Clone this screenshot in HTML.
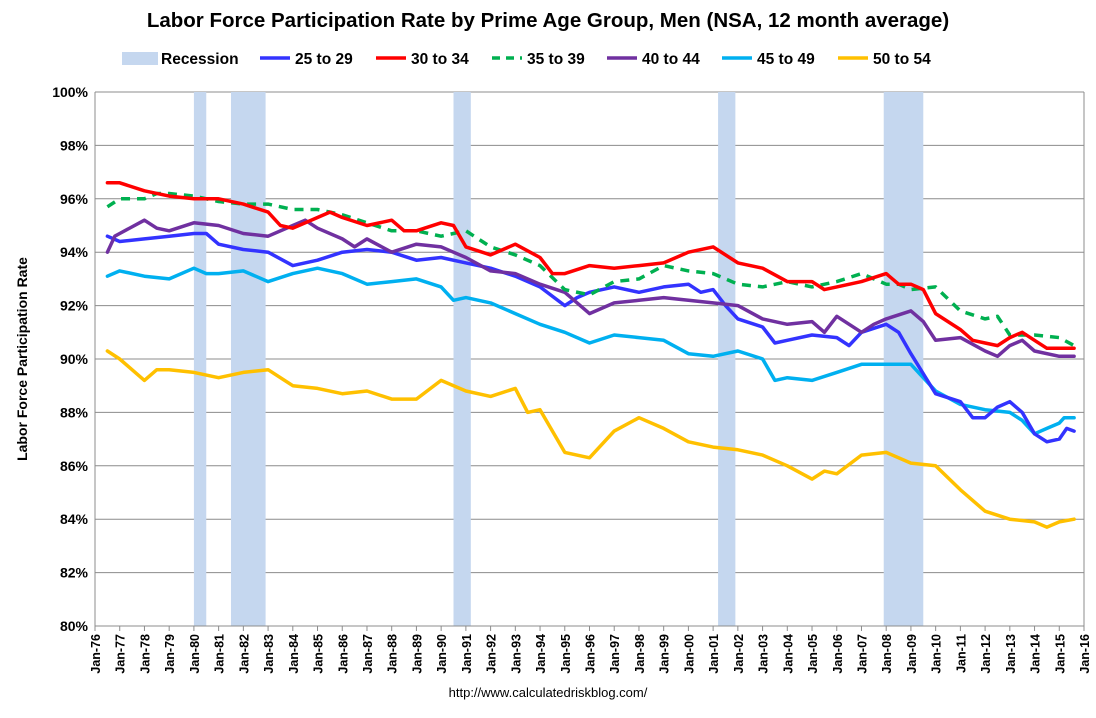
<!DOCTYPE html>
<html><head><meta charset="utf-8"><style>
body{margin:0;background:#fff;font-family:"Liberation Sans",Arial,sans-serif}
svg text{font-family:"Liberation Sans",Arial,sans-serif}
</style></head><body>
<svg id="c" width="1096" height="713" xmlns="http://www.w3.org/2000/svg">
<text x="548" y="27" text-anchor="middle" font-size="20.5" font-weight="bold" fill="#000">Labor Force Participation Rate by Prime Age Group, Men (NSA, 12 month average)</text>
<g id="legend"></g>
<g id="grid"></g>
<g id="rec"></g>
<g id="lines"></g>
<g id="axes"></g>
<text transform="translate(27,359) rotate(-90)" text-anchor="middle" font-size="14" font-weight="bold">Labor Force Participation Rate</text>
<text x="548" y="697" text-anchor="middle" font-size="13">http://www.calculatedriskblog.com/</text>
</svg>
<script>
const yTicks=[80,82,84,86,88,90,92,94,96,98,100];
const recessions=[[1980.0,1980.5],[1981.5,1982.9],[1990.5,1991.2],[2001.2,2001.9],[2007.9,2009.5]];
const s25x=[1976.5,1977,1978,1979,1980,1980.5,1981,1982,1983,1984,1985,1986,1987,1988,1989,1990,1991,1992,1993,1994,1995,1995.5,1996,1997,1998,1999,2000,2000.5,2001,2001.5,2002,2003,2003.5,2004,2005,2006,2006.5,2007,2008,2008.5,2009,2010,2011,2011.5,2012,2012.5,2013,2013.5,2014,2014.5,2015,2015.3,2015.6];
const s25y=[94.6,94.4,94.5,94.6,94.7,94.7,94.3,94.1,94.0,93.5,93.7,94.0,94.1,94.0,93.7,93.8,93.6,93.4,93.1,92.7,92.0,92.3,92.5,92.7,92.5,92.7,92.8,92.5,92.6,92.0,91.5,91.2,90.6,90.7,90.9,90.8,90.5,91.0,91.3,91.0,90.2,88.7,88.4,87.8,87.8,88.2,88.4,88.0,87.2,86.9,87.0,87.4,87.3];
const s30x=[1976.5,1977,1978,1979,1980,1981,1982,1983,1983.5,1984,1985,1985.5,1986,1987,1988,1988.5,1989,1990,1990.5,1991,1992,1993,1994,1994.5,1995,1996,1997,1998,1999,2000,2001,2002,2003,2004,2005,2005.5,2006,2007,2008,2008.5,2009,2009.5,2010,2011,2011.5,2012,2012.5,2013,2013.5,2014,2014.5,2015,2015.6];
const s30y=[96.6,96.6,96.3,96.1,96.0,96.0,95.8,95.5,95.0,94.9,95.3,95.5,95.3,95.0,95.2,94.8,94.8,95.1,95.0,94.2,93.9,94.3,93.8,93.2,93.2,93.5,93.4,93.5,93.6,94.0,94.2,93.6,93.4,92.9,92.9,92.6,92.7,92.9,93.2,92.8,92.8,92.6,91.7,91.1,90.7,90.6,90.5,90.8,91.0,90.7,90.4,90.4,90.4];
const s35x=[1976.5,1977,1978,1978.5,1979,1980,1981,1982,1983,1984,1985,1986,1987,1988,1989,1990,1991,1992,1993,1994,1995,1996,1997,1998,1999,2000,2001,2002,2003,2004,2005,2006,2007,2008,2008.5,2009,2010,2011,2012,2012.5,2013,2014,2015,2015.6];
const s35y=[95.7,96.0,96.0,96.2,96.2,96.1,95.9,95.8,95.8,95.6,95.6,95.4,95.1,94.8,94.8,94.6,94.8,94.2,93.9,93.5,92.6,92.4,92.9,93.0,93.5,93.3,93.2,92.8,92.7,92.9,92.7,92.9,93.2,92.8,92.8,92.6,92.7,91.8,91.5,91.6,90.9,90.9,90.8,90.5];
const s40x=[1976.5,1976.8,1977,1978,1978.5,1979,1980,1981,1982,1983,1984,1984.5,1985,1986,1986.5,1987,1988,1989,1990,1990.5,1991,1992,1993,1994,1995,1996,1997,1998,1999,2000,2001,2002,2003,2004,2005,2005.5,2006,2007,2007.5,2008,2009,2009.5,2010,2011,2012,2012.5,2013,2013.5,2014,2015,2015.6];
const s40y=[94.0,94.6,94.7,95.2,94.9,94.8,95.1,95.0,94.7,94.6,95.0,95.2,94.9,94.5,94.2,94.5,94.0,94.3,94.2,94.0,93.8,93.3,93.2,92.8,92.5,91.7,92.1,92.2,92.3,92.2,92.1,92.0,91.5,91.3,91.4,91.0,91.6,91.0,91.3,91.5,91.8,91.4,90.7,90.8,90.3,90.1,90.5,90.7,90.3,90.1,90.1];
const s45x=[1976.5,1977,1978,1979,1980,1980.5,1981,1982,1983,1984,1985,1986,1987,1988,1989,1990,1990.5,1991,1992,1993,1994,1995,1996,1997,1998,1999,2000,2001,2002,2003,2003.5,2004,2005,2006,2007,2008,2009,2010,2011,2012,2013,2013.5,2014,2014.5,2015,2015.2,2015.6];
const s45y=[93.1,93.3,93.1,93.0,93.4,93.2,93.2,93.3,92.9,93.2,93.4,93.2,92.8,92.9,93.0,92.7,92.2,92.3,92.1,91.7,91.3,91.0,90.6,90.9,90.8,90.7,90.2,90.1,90.3,90.0,89.2,89.3,89.2,89.5,89.8,89.8,89.8,88.8,88.3,88.1,88.0,87.7,87.2,87.4,87.6,87.8,87.8];
const s50x=[1976.5,1977,1978,1978.5,1979,1980,1981,1982,1983,1984,1985,1986,1987,1988,1989,1990,1991,1992,1993,1993.5,1994,1995,1996,1997,1998,1999,2000,2001,2002,2003,2004,2005,2005.5,2006,2007,2008,2009,2010,2011,2012,2013,2014,2014.5,2015,2015.6];
const s50y=[90.3,90.0,89.2,89.6,89.6,89.5,89.3,89.5,89.6,89.0,88.9,88.7,88.8,88.5,88.5,89.2,88.8,88.6,88.9,88.0,88.1,86.5,86.3,87.3,87.8,87.4,86.9,86.7,86.6,86.4,86.0,85.5,85.8,85.7,86.4,86.5,86.1,86.0,85.1,84.3,84.0,83.9,83.7,83.9,84.0];
const seriesNames=["25 to 29","30 to 34","35 to 39","40 to 44","45 to 49","50 to 54"];
const NS="http://www.w3.org/2000/svg";
const X0=95,X1=1084,Y0=626,Y1=92;
const xs=t=>X0+(t-1976)*(X1-X0)/40;
const ys=v=>Y0-(v-80)*(Y0-Y1)/20;
function mk(tag,attrs,parent){const e=document.createElementNS(NS,tag);for(const k in attrs)e.setAttribute(k,attrs[k]);parent.appendChild(e);return e;}
const grid=document.getElementById('grid'),axes=document.getElementById('axes'),rec=document.getElementById('rec'),lines=document.getElementById('lines'),leg=document.getElementById('legend');
yTicks.forEach(v=>{
 const l=mk('line',{x1:X0,x2:X1,y1:ys(v),y2:ys(v),stroke:'#8c8c8c','stroke-width':1},grid);
 
 
 const t=mk('text',{x:X0-7,y:ys(v)+5,'text-anchor':'end','font-size':14,'font-weight':'bold'},axes);
 t.textContent=v+'%';
 
 
});
recessions.forEach(r=>{
 const b=mk('rect',{x:xs(r[0]),y:Y1,width:xs(r[1])-xs(r[0]),height:Y0-Y1,fill:'#c5d7ef'},rec);
 
 
});
mk('line',{x1:X1,x2:X1,y1:Y1,y2:Y0,stroke:'#8c8c8c'},axes);
mk('line',{x1:X0,x2:X0,y1:Y1,y2:Y0,stroke:'#8c8c8c'},axes);
mk('line',{x1:X0,x2:X1,y1:Y0,y2:Y0,stroke:'#8c8c8c'},axes);
for(let y=1976;y<=2016;y++){
 mk('line',{x1:xs(y),x2:xs(y),y1:Y0,y2:Y0+5,stroke:'#8c8c8c'},axes);
 const t=mk('text',{transform:`translate(${xs(y)+5},${Y0+8}) rotate(-90)`,'text-anchor':'end','font-size':12.5,'font-weight':'bold'},axes);
 t.textContent='Jan-'+String(y%100).padStart(2,'0');
 
 
}
const colors=['#3333ff','#ff0000','#00b050','#7030a0','#00b0f0','#ffc000'];
const data=[[s25x,s25y],[s30x,s30y],[s35x,s35y],[s40x,s40y],[s45x,s45y],[s50x,s50y]];
const order=[5,4,0,3,2,1];
order.forEach(i=>{
 const [dx,dy]=data[i];
 const p=dx.map((t,j)=>(j?'L':'M')+xs(t).toFixed(1)+' '+ys(dy[j]).toFixed(1)).join(' ');
 const a={d:p,fill:'none',stroke:colors[i],'stroke-width':3.5,'stroke-linejoin':'round','stroke-linecap':'round'};
 if(i===2){a['stroke-dasharray']='9 7';a['stroke-linecap']='butt';}
 const e=mk('path',a,lines);
 
 
});
const rs=mk('rect',{x:122,y:52,width:36,height:13,fill:'#c5d7ef'},leg);


const rt=mk('text',{x:161,y:64,'font-size':15.5,'font-weight':'bold'},leg);
rt.textContent='Recession';


const lx=[260,376,492,607,722,838];
seriesNames.forEach((n,i)=>{
 const a={x1:lx[i],x2:lx[i]+30,y1:58,y2:58,stroke:colors[i],'stroke-width':3.5};
 if(i===2)a['stroke-dasharray']='8 6';
 const l=mk('line',a,leg);
 
 
 const t=mk('text',{x:lx[i]+35,y:64,'font-size':15.5,'font-weight':'bold'},leg);
 t.textContent=n;
 
 
});
</script>
</body></html>
